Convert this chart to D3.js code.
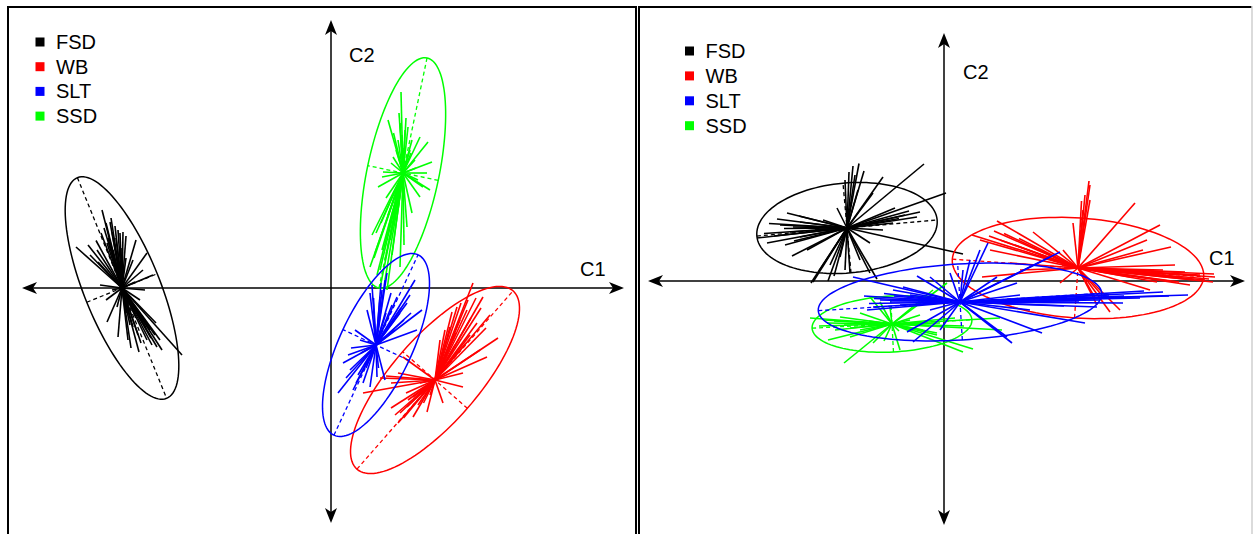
<!DOCTYPE html>
<html>
<head>
<meta charset="utf-8">
<script src="https://cdn.jsdelivr.net/npm/d3@7"></script>
<style>
  html, body { margin: 0; padding: 0; background: #fff; }
  svg { display: block; }
  text { font-family: "Liberation Sans", Arial, sans-serif; }
</style>
</head>
<body>
<svg id="chart" width="1253" height="534"></svg>
<script>
// ---------------- data ----------------
const groups = ["FSD", "WB", "SLT", "SSD"];
const groupColors = ["#000000", "#ff0000", "#0000ff", "#00ff00"];
const axisNames = ["C1", "C2"];
const drawOrder = ["FSD", "WB", "SSD", "SLT"];

// Left panel: class centroids [C1, C2]
const leftCentroids = { FSD: [-4.18, 0.00], WB: [2.08, -1.84], SLT: [0.90, -1.14], SSD: [1.44, 2.30] };
// Left panel: ellipses [semi-major, semi-minor, angle in degrees]
const leftEllipses = { FSD: [2.38, 0.76, -68], WB: [2.37, 0.86, 48.8], SLT: [1.99, 0.73, 65], SSD: [2.35, 0.72, 78.2] };

const leftFSD = [[-4.58,1.56],[-4.26,1.16],[-5.10,0.82],[-4.86,0.86],[-3.90,0.96],[-3.68,0.70],[-2.98,-1.34],[-3.84,-1.28],
  [-3.48,-1.18],[-4.26,-0.98],[-4.48,-0.68],[-4.62,0.06],[-3.56,0.26],[-3.76,0.36],[-4.42,1.32],[-4.68,0.76],[-3.68,-1.04],
  [-3.96,-0.78],[-3.42,-1.04],[-4.22,1.10],[-4.16,1.12],[-4.38,1.12],[-3.82,-0.24],[-4.08,-0.50],[-4.28,-0.38],[-4.48,0.90],
  [-3.96,0.56],[-3.76,-0.64],[-4.46,1.00],[-4.54,1.20],[-4.32,1.24],[-4.10,1.04],[-3.62,-0.84],[-3.86,-0.94],[-3.58,-1.14],
  [-4.06,-1.04],[-4.38,-0.04],[-4.50,-0.24],[-3.92,0.12],[-3.72,-0.04],[-4.66,0.52],[-4.82,0.66],[-4.36,0.76],[-4.02,-0.74],
  [-3.52,-0.94],[-3.38,-1.24],[-4.50,1.30],[-4.40,1.40],[-4.30,1.00],[-4.20,0.80],[-4.60,1.10],[-3.70,-0.80],[-3.60,-1.00],
  [-3.80,-1.10],[-3.90,-0.60],[-3.50,-0.70],[-4.00,-1.20],[-4.70,0.95],[-4.10,0.60],[-3.95,-0.40]];
const leftWB = [[2.84,0.10],[3.04,-0.18],[3.34,-1.00],[3.12,-1.38],[2.64,-1.70],[2.64,-1.98],[0.64,-2.10],[1.34,-1.70],
  [1.38,-2.50],[1.34,-2.70],[1.64,-2.58],[1.92,-2.48],[2.24,-2.30],[2.52,-0.38],[2.72,-0.44],[2.38,-0.78],[2.18,-1.04],
  [2.92,-0.70],[1.44,-1.38],[1.64,-2.18],[1.52,-2.38],[1.78,-1.90],[2.58,-0.64],[2.78,-0.94],[2.48,-1.14],[2.98,-1.24],
  [2.28,-0.84],[1.54,-2.24],[1.74,-2.34],[1.28,-2.54],[1.98,-2.14],[2.74,-0.24],[3.18,-0.54],[0.98,-1.80],[2.42,-0.48],
  [2.90,-0.20],[3.00,-0.40],[2.60,-0.30],[2.80,-0.60],[3.10,-0.80],[2.50,-0.90],[2.70,-1.10],[1.60,-2.40],[1.70,-2.20],
  [1.45,-2.60],[1.85,-2.30],[1.50,-2.10],[1.20,-2.40],[1.10,-1.76],[1.20,-1.90]];
const leftSLT = [[1.08,0.16],[1.12,0.30],[1.68,0.16],[1.82,-0.44],[1.72,-0.84],[0.72,-0.44],[0.78,-0.10],[0.24,-1.50],
  [0.14,-2.10],[0.44,-2.04],[1.08,-1.84],[0.92,-1.78],[0.58,-1.04],[1.38,-0.50],[1.52,-0.30],[1.32,-0.18],[0.98,-0.18],
  [1.18,-0.70],[0.64,-1.90],[0.78,-1.98],[1.02,-0.04],[1.22,-0.34],[1.46,-0.64],[1.28,-0.84],[0.38,-1.64],[0.54,-1.74],
  [0.68,-1.54],[0.34,-1.34],[0.82,0.06],[1.58,-0.14],[0.48,-0.84],[0.74,-1.44],[1.00,0.10],[1.20,-0.10],[1.40,-0.40],
  [1.60,-0.50],[0.70,-1.60],[0.50,-1.90],[0.30,-1.80],[0.60,-1.30],[0.40,-1.20],[1.10,-0.50],[0.85,-0.20],[0.95,-1.60]];
const leftSSD = [[1.40,3.92],[1.14,3.36],[1.54,3.22],[1.78,3.02],[1.94,2.92],[2.02,2.52],[1.98,1.96],[1.78,1.82],[1.02,2.22],
  [0.94,2.02],[0.82,1.06],[0.88,0.70],[0.98,0.36],[1.08,0.16],[1.38,0.42],[1.18,0.96],[1.24,1.30],[1.52,1.22],[1.62,1.50],
  [1.38,3.30],[1.48,3.16],[1.62,2.96],[1.24,2.62],[1.04,2.32],[1.92,2.30],[1.84,2.02],[0.98,0.00],[1.12,-0.04],[0.78,0.42],
  [1.34,2.96],[1.42,3.06],[1.30,2.76],[1.58,2.76],[1.68,2.56],[1.28,1.76],[1.34,1.56],[1.14,1.46],[1.02,0.76],[1.08,0.56],
  [0.92,0.26],[1.22,0.66],[1.46,0.86],[1.74,2.16],[1.36,3.50],[1.50,3.40],[1.25,3.10],[1.60,2.70],[1.46,2.80],[1.20,2.50],
  [1.10,1.80],[1.00,1.30],[0.90,1.10],[1.15,1.20],[0.86,0.60],[1.30,1.90],[1.70,2.40]];

// Right panel
const rightCentroids = { FSD: [-1.94, 1.06], WB: [2.68, 0.26], SLT: [0.32, -0.42], SSD: [-1.04, -0.86] };
const rightEllipses = { FSD: [1.81, 0.90, 5.1], WB: [2.52, 1.00, -4], SLT: [2.84, 0.76, 3.5], SSD: [1.60, 0.56, 3] };

const rightFSD = [[-1.82,2.30],[-1.90,2.18],[-1.22,2.08],[-0.40,2.34],[0.04,1.76],[0.38,0.54],[-1.48,0.76],[-3.04,0.50],
  [-3.54,0.76],[-3.74,0.86],[-3.14,1.36],[-3.34,1.24],[-2.66,-0.04],[-2.32,0.00],[-2.62,-0.02],[-1.34,0.04],[-1.48,0.16],
  [-1.88,0.16],[-0.48,1.38],[-0.54,1.28],[-2.14,1.46],[-2.42,1.22],[-3.02,1.08],[-2.88,0.88],[-2.74,0.62],[-2.08,0.48],
  [-1.68,0.42],[-1.22,1.02],[-1.02,1.16],[-1.42,1.76],[-3.28,1.12],[-3.08,0.98],[-2.88,1.18],[-2.58,1.02],[-0.78,1.32],
  [-0.98,1.46],[-1.78,2.12],[-1.98,2.02],[-1.72,1.82],[-2.28,0.32],[-1.98,0.22],[-3.18,0.72],[-3.40,0.90],[-3.20,1.05],
  [-3.00,0.80],[-2.90,1.30],[-1.60,2.20],[-1.70,2.35],[-0.70,1.40],[-0.90,1.25],[-2.50,0.20],[-2.20,0.10],[-3.60,0.95],
  [-3.50,1.15]];
const rightWB = [[2.92,1.92],[3.82,1.56],[4.32,1.12],[4.54,0.68],[5.42,0.08],[5.38,-0.02],[4.92,-0.08],[3.32,-0.62],
  [3.52,-0.58],[3.06,-0.48],[2.32,-0.04],[1.06,1.20],[0.56,0.92],[1.78,0.98],[0.76,0.08],[1.52,0.22],[2.38,0.62],[2.58,1.16],
  [2.78,1.42],[4.06,0.82],[4.38,0.22],[4.72,0.08],[3.72,0.08],[3.12,-0.24],[0.72,0.82],[0.92,0.62],[1.32,0.36],[2.36,0.32],
  [3.98,0.62],[4.26,-0.02],[5.12,0.12],[5.22,0.02],[4.82,0.18],[4.62,0.32],[2.92,1.62],[2.82,1.72],[1.12,0.82],[1.42,0.72],
  [1.92,0.52],[4.12,-0.18],[3.02,-0.34],[5.30,0.04],[5.00,0.02],[4.90,0.12],[4.70,-0.02],[4.50,0.00],[4.40,0.14],[5.40,0.14],
  [1.00,1.00],[1.20,0.95],[1.50,0.85],[0.90,0.90],[2.90,2.00],[2.75,1.60]];
const rightSLT = [[-1.82,0.08],[-0.54,0.10],[-0.28,0.08],[-1.42,-0.52],[-1.54,-0.58],[-0.74,-1.02],[-0.62,-1.22],[-1.02,-0.18],
  [-1.08,-0.42],[-0.82,-0.12],[0.88,0.76],[0.72,0.62],[2.32,0.58],[2.12,0.48],[4.88,-0.28],[4.38,-0.22],[3.58,-0.44],
  [2.82,-0.84],[1.96,-1.04],[1.36,-1.24],[1.26,-1.12],[1.72,-0.58],[3.06,-0.52],[2.46,-0.32],[1.46,-0.04],[1.06,0.08],
  [0.52,0.42],[0.38,0.22],[0.12,0.16],[-1.28,-0.38],[-0.88,-0.48],[-0.48,-0.38],[-0.68,-0.28],[3.12,-0.38],[3.92,-0.34],
  [2.12,-0.38],[1.12,-0.38],[1.52,-0.28],[-0.28,-0.58],[-0.08,-0.98],[-1.60,-0.30],[-1.40,-0.35],[-1.20,-0.25],[-1.00,-0.30],
  [-0.80,-0.35],[-1.50,-0.45],[4.00,-0.20],[3.60,-0.30],[3.30,-0.28],[4.50,-0.30],[2.70,-0.40],[2.40,-0.50]];
const rightSSD = [[-2.00,-1.64],[-0.88,-1.38],[0.38,-1.42],[-2.68,-0.74],[-2.34,-0.84],[-2.32,-1.18],[-1.88,-1.12],[-1.42,-1.24],
  [-0.14,-1.04],[0.06,-0.04],[-0.22,-0.18],[-1.48,-0.32],[-1.28,-0.42],[-0.42,-0.98],[-0.08,-0.84],[-2.08,-0.72],[-1.68,-0.64],
  [-1.08,-0.52],[0.58,-1.36],[1.12,-0.74],[1.16,-0.98],[-0.14,-1.08],[-1.88,-0.94],[-1.68,-0.98],[-2.18,-0.98],[-0.68,-0.78],
  [-0.48,-0.68],[0.22,-0.74],[-2.40,-0.78],[-2.20,-0.80],[-2.00,-0.86],[-1.80,-0.82],[-2.50,-0.90],[-1.50,-0.80],[-0.90,-1.00],
  [-0.30,-0.90],[0.40,-0.90],[-1.20,-1.20]];

// Axis extents (data units)
const leftAxisX = [-6.18, 5.86], leftAxisY = [-4.70, 5.36];
const rightAxisX = [-5.92, 6.02], rightAxisY = [-4.88, 4.96];

// ---------------- drawing ----------------
const svg = d3.select("#chart");
const colorOf = d3.scaleOrdinal().domain(groups).range(groupColors);

const panels = [
  {
    px: [8, 636], py: [7, 534], xDom: [-6.46, 6.10], yDom: [-4.92, 5.62],
    centroids: leftCentroids, ellipses: leftEllipses,
    scores: { FSD: leftFSD, WB: leftWB, SLT: leftSLT, SSD: leftSSD },
    axX: leftAxisX, axY: leftAxisY,
    legend: { x: 40, y0: 42, dy: 24.7 },
    c1: [-44, -12], c2: [18, 62], rightEdge: "#000"
  },
  {
    px: [639, 1252], py: [7, 534], xDom: [-6.10, 6.16], yDom: [-5.06, 5.48],
    centroids: rightCentroids, ellipses: rightEllipses,
    scores: { FSD: rightFSD, WB: rightWB, SLT: rightSLT, SSD: rightSSD },
    axX: rightAxisX, axY: rightAxisY,
    legend: { x: 689.5, y0: 51, dy: 24.9 },
    c1: [-36, -16], c2: [19, 79], rightEdge: "#cfcfcf"
  }
];

function arrowHead(g, x, y, angleDeg) {
  g.append("path")
    .attr("d", "M0,0 L-15,-6 L-11,0 L-15,6 Z")
    .attr("transform", `translate(${x},${y}) rotate(${angleDeg})`)
    .attr("fill", "#000");
}

panels.forEach(p => {
  const g = svg.append("g");
  const x = d3.scaleLinear().domain(p.xDom).range(p.px);
  const y = d3.scaleLinear().domain(p.yDom).range([p.py[1], p.py[0]]);

  // frame
  g.append("line").attr("x1", p.px[0]).attr("x2", p.px[1]).attr("y1", p.py[0]).attr("y2", p.py[0])
    .attr("stroke", "#000").attr("stroke-width", 2);
  g.append("line").attr("x1", p.px[0]).attr("x2", p.px[0]).attr("y1", p.py[0] - 1).attr("y2", 540)
    .attr("stroke", "#000").attr("stroke-width", 2);
  g.append("line").attr("x1", p.px[1]).attr("x2", p.px[1]).attr("y1", p.py[0] - 1).attr("y2", 540)
    .attr("stroke", p.rightEdge).attr("stroke-width", p.rightEdge === "#000" ? 2 : 1.5);

  // axes
  const ox = x(0), oy = y(0);
  g.append("line").attr("x1", x(p.axX[0]) + 8).attr("x2", x(p.axX[1]) - 8).attr("y1", oy).attr("y2", oy)
    .attr("stroke", "#000").attr("stroke-width", 1.5);
  g.append("line").attr("x1", ox).attr("x2", ox).attr("y1", y(p.axY[1]) + 8).attr("y2", y(p.axY[0]) - 8)
    .attr("stroke", "#000").attr("stroke-width", 1.5);
  arrowHead(g, x(p.axX[0]), oy, 180);
  arrowHead(g, x(p.axX[1]), oy, 0);
  arrowHead(g, ox, y(p.axY[1]), -90);
  arrowHead(g, ox, y(p.axY[0]), 90);

  g.append("text").attr("x", x(p.axX[1]) + p.c1[0]).attr("y", oy + p.c1[1])
    .attr("font-size", 20).attr("fill", "#000").text(axisNames[0]);
  g.append("text").attr("x", ox + p.c2[0]).attr("y", p.c2[1])
    .attr("font-size", 20).attr("fill", "#000").text(axisNames[1]);

  // groups
  drawOrder.forEach(name => {
    const col = colorOf(name);
    const c = p.centroids[name];
    const [a, b, angDeg] = p.ellipses[name];
    const t = angDeg * Math.PI / 180;
    const u = [Math.cos(t), Math.sin(t)], v = [-Math.sin(t), Math.cos(t)];
    const gg = g.append("g");

    // star segments
    gg.selectAll("line.star").data(p.scores[name]).join("line")
      .attr("class", "star")
      .attr("x1", x(c[0])).attr("y1", y(c[1]))
      .attr("x2", d => x(d[0])).attr("y2", d => y(d[1]))
      .attr("stroke", col).attr("stroke-width", 1.6);

    // ellipse
    const pts = d3.range(0, 361, 3).map(k => {
      const s = k * Math.PI / 180;
      return [c[0] + a * Math.cos(s) * u[0] + b * Math.sin(s) * v[0],
              c[1] + a * Math.cos(s) * u[1] + b * Math.sin(s) * v[1]];
    });
    gg.append("path")
      .attr("d", d3.line().x(d => x(d[0])).y(d => y(d[1]))(pts) + "Z")
      .attr("fill", "none").attr("stroke", col).attr("stroke-width", 1.5);

    // ellipse axes (dashed)
    [[a, u], [b, v]].forEach(([len, dir]) => {
      gg.append("line")
        .attr("x1", x(c[0] - len * dir[0])).attr("y1", y(c[1] - len * dir[1]))
        .attr("x2", x(c[0] + len * dir[0])).attr("y2", y(c[1] + len * dir[1]))
        .attr("stroke", col).attr("stroke-width", 1.3).attr("stroke-dasharray", "4,3");
    });
  });

  // legend
  groups.forEach((name, i) => {
    const cy = p.legend.y0 + i * p.legend.dy;
    g.append("rect").attr("x", p.legend.x - 4.5).attr("y", cy - 4.5).attr("width", 9).attr("height", 9)
      .attr("fill", colorOf(name));
    g.append("text").attr("x", p.legend.x + 16).attr("y", cy + 7)
      .attr("font-size", 20).attr("fill", "#000").text(name);
  });
});
</script>
</body>
</html>
